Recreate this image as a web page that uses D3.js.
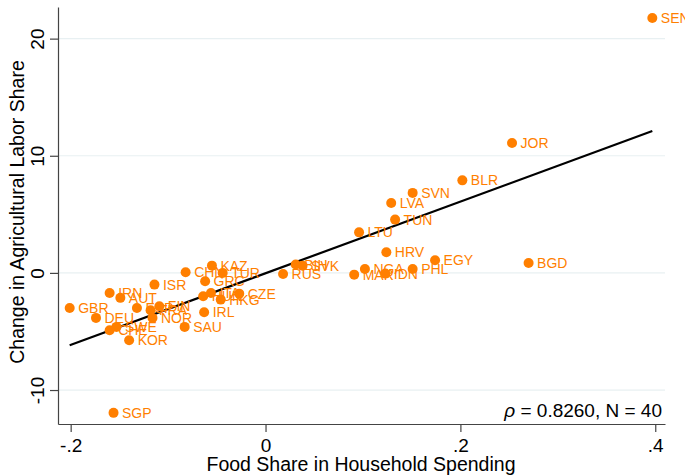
<!DOCTYPE html>
<html>
<head>
<meta charset="utf-8">
<script src="https://cdn.jsdelivr.net/npm/d3@7"></script>
<style>
  body { margin: 0; background: #fff; }
  text { font-family: "Liberation Sans", Arial, sans-serif; }
</style>
</head>
<body>
<script>
// country codes, food share (x) and change in ag labor share (y)
var countries = ["SEN","JOR","BLR","SVN","LVA","TUN","LTU","HRV","EGY","BGD",
  "PHL","NGA","MAR","IDN","RUS","BIH","SVK","KAZ","CHN","TUR",
  "GRC","ISR","IRN","AUT","GBR","DEU","ESP","FRA","FIN","NOR",
  "SWE","CHE","KOR","SAU","IRL","HKG","HUN","ITA","CZE","SGP"];
var foodShare = [0.397, 0.253, 0.202, 0.151, 0.129, 0.133, 0.096, 0.124, 0.174, 0.270,
  0.151, 0.102, 0.091, 0.123, 0.018, 0.031, 0.038, -0.055, -0.082, -0.044,
  -0.062, -0.114, -0.160, -0.149, -0.201, -0.174, -0.132, -0.118, -0.109, -0.116,
  -0.153, -0.160, -0.140, -0.083, -0.063, -0.046, -0.064, -0.056, -0.027, -0.156];
var agChange = [21.76, 11.09, 7.90, 6.83, 5.97, 4.55, 3.46, 1.76, 1.08, 0.85,
  0.34, 0.34, -0.15, -0.06, -0.09, 0.71, 0.62, 0.62, 0.05, 0.0,
  -0.72, -1.0, -1.71, -2.13, -2.99, -3.84, -2.99, -3.19, -2.85, -3.84,
  -4.61, -4.90, -5.75, -4.61, -3.36, -2.28, -2.0, -1.71, -1.77, -11.95];

// fitted line
var fitIntercept = -0.03;
var fitSlope = 30.57;

var xTicks = [-0.2, 0, 0.2, 0.4];
var xTickLabels = ["-.2", "0", ".2", ".4"];
var yTicks = [-10, 0, 10, 20];
var yTickLabels = ["-10", "0", "10", "20"];
var statText = ["\u03c1", " = 0.8260, N = 40"];

var svgWidth = 685, svgHeight = 475;
var orange = "#ff7f00";

var svg = d3.select("body").append("svg")
  .attr("width", svgWidth)
  .attr("height", svgHeight);

var x = d3.scaleLinear().domain([-0.213, 0.41]).range([58, 665]);
var y = d3.scaleLinear().domain([-12.9, 22.7]).range([424, 7]);

// gridlines
svg.append("g").selectAll("line")
  .data(yTicks)
  .enter().append("line")
  .attr("x1", 58).attr("x2", 665)
  .attr("y1", d => y(d)).attr("y2", d => y(d))
  .attr("stroke", "#e8f0f2")
  .attr("stroke-width", 1.2);

// axes
var xAxis = d3.axisBottom(x)
  .tickValues(xTicks)
  .tickFormat((d, i) => xTickLabels[i])
  .tickSizeInner(8).tickSizeOuter(0).tickPadding(7);
var gx = svg.append("g")
  .attr("transform", "translate(0,424)")
  .call(xAxis);
gx.selectAll("text").attr("font-size", "19px").attr("fill", "#000").attr("font-family", null);

var yAxis = d3.axisLeft(y)
  .tickValues(yTicks)
  .tickFormat((d, i) => yTickLabels[i])
  .tickSizeInner(8).tickSizeOuter(0);
var gy = svg.append("g")
  .attr("transform", "translate(58,0)")
  .call(yAxis);
gy.selectAll("text")
  .attr("x", null).attr("dy", null)
  .attr("text-anchor", "middle")
  .attr("transform", "translate(-14,0) rotate(-90)")
  .attr("font-size", "19px").attr("fill", "#000").attr("font-family", null);

svg.selectAll(".domain, .tick line").attr("stroke", "#444").attr("stroke-width", 1.2);

// fit line
var xMin = d3.min(foodShare), xMax = d3.max(foodShare);
svg.append("line")
  .attr("x1", x(xMin)).attr("y1", y(fitIntercept + fitSlope * xMin))
  .attr("x2", x(xMax)).attr("y2", y(fitIntercept + fitSlope * xMax))
  .attr("stroke", "#000")
  .attr("stroke-width", 2.2);

// points and labels
var pts = svg.append("g");
countries.forEach(function(c, i) {
  pts.append("circle")
    .attr("cx", x(foodShare[i]))
    .attr("cy", y(agChange[i]))
    .attr("r", 5)
    .attr("fill", orange);
  pts.append("text")
    .attr("x", x(foodShare[i]) + 8.5)
    .attr("y", y(agChange[i]))
    .attr("dy", "0.36em")
    .attr("font-size", "14px")
    .attr("fill", orange)
    .text(c);
});

// correlation note
var note = svg.append("text")
  .attr("x", 662).attr("y", 417)
  .attr("text-anchor", "end")
  .attr("font-size", "19px")
  .attr("fill", "#000");
note.append("tspan").attr("font-style", "italic").text(statText[0]);
note.append("tspan").text(statText[1]);

// axis titles
svg.append("text")
  .attr("transform", "translate(24,212) rotate(-90)")
  .attr("text-anchor", "middle")
  .attr("font-size", "19.5px")
  .text("Change in Agricultural Labor Share");

svg.append("text")
  .attr("x", 361).attr("y", 471)
  .attr("text-anchor", "middle")
  .attr("font-size", "19.5px")
  .text("Food Share in Household Spending");
</script>
</body>
</html>
